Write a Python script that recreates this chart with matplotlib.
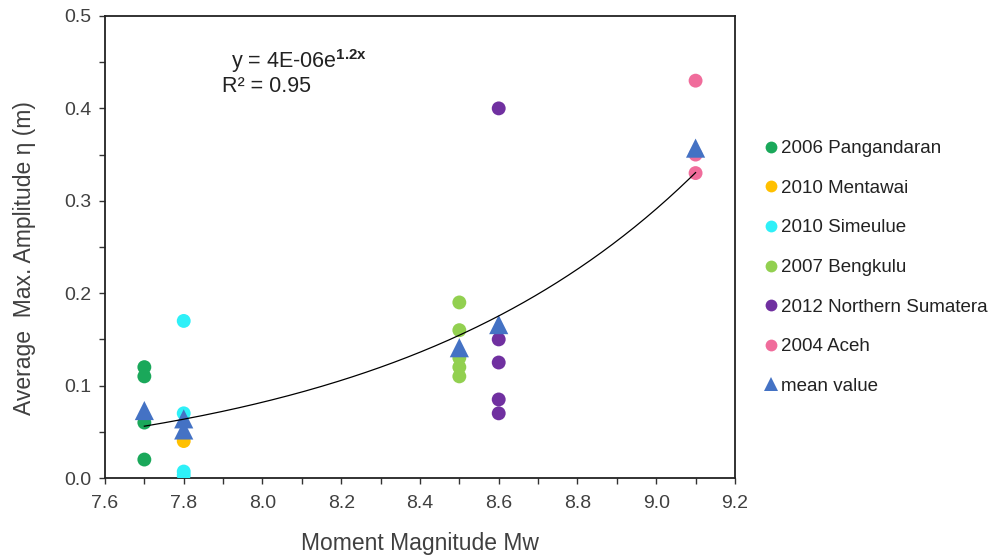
import numpy as np
import matplotlib.pyplot as plt
from matplotlib.lines import Line2D

plt.rcParams["font.family"] = ["Liberation Sans", "DejaVu Sans"]
plt.rcParams["mathtext.fontset"] = "custom"
plt.rcParams["mathtext.rm"] = "Liberation Sans"
plt.rcParams["mathtext.bf"] = "Liberation Sans:bold"

# ---------------------------------------------------------------------------
# Data
# ---------------------------------------------------------------------------
pang_x = [7.7, 7.7, 7.7, 7.7]
pang_y = [0.12, 0.11, 0.06, 0.02]

ment_x = [7.8]
ment_y = [0.04]

sime_x = [7.8, 7.8, 7.8, 7.8]
sime_y = [0.17, 0.07, 0.007, 0.003]

beng_x = [8.5, 8.5, 8.5, 8.5, 8.5]
beng_y = [0.19, 0.16, 0.13, 0.12, 0.11]

nsum_x = [8.6, 8.6, 8.6, 8.6, 8.6]
nsum_y = [0.40, 0.15, 0.125, 0.085, 0.07]

aceh_x = [9.1, 9.1, 9.1]
aceh_y = [0.43, 0.35, 0.33]

mean_x = [7.7, 7.8, 7.8, 8.5, 8.6, 9.1]
mean_y = [0.073, 0.064, 0.052, 0.141, 0.166, 0.357]

# exponential trendline y = a*exp(b*x), as drawn in the reference
trend_a = 3.25e-6
trend_b = 1.267
trend_range = (7.7, 9.1)

series = [
    ("2006 Pangandaran", pang_x, pang_y, "#1aa85a"),
    ("2010 Mentawai", ment_x, ment_y, "#ffc000"),
    ("2010 Simeulue", sime_x, sime_y, "#2ef0f8"),
    ("2007 Bengkulu", beng_x, beng_y, "#92d050"),
    ("2012 Northern Sumatera", nsum_x, nsum_y, "#7030a0"),
    ("2004 Aceh", aceh_x, aceh_y, "#f06c9b"),
]
MEAN_COLOR = "#4472c4"
TXT = "#404040"

# ---------------------------------------------------------------------------
# Figure
# ---------------------------------------------------------------------------
fig = plt.figure(figsize=(9.96, 5.57), dpi=100)
ax = fig.add_axes([0.1054, 0.1418, 0.6325, 0.8295])

for label, xs, ys, c in series:
    ax.scatter(xs, ys, s=100, color=c, edgecolors="none", zorder=3)

ax.scatter(mean_x, mean_y, s=190, marker="^", color=MEAN_COLOR,
           edgecolors="none", zorder=4)

xt = np.linspace(*trend_range, 200)
ax.plot(xt, trend_a * np.exp(trend_b * xt), color="black", lw=0.9, zorder=5)

ax.set_xlim(7.6, 9.2)
ax.set_ylim(0, 0.5)
ax.set_xticks(np.arange(7.6, 9.21, 0.2))
ax.set_xticks(np.arange(7.6, 9.21, 0.1), minor=True)
ax.set_yticks(np.arange(0, 0.51, 0.1))
ax.set_yticks(np.arange(0, 0.51, 0.05), minor=True)
ax.xaxis.set_major_formatter(plt.FuncFormatter(lambda v, p: f"{v:.1f}"))
ax.yaxis.set_major_formatter(plt.FuncFormatter(lambda v, p: f"{v:.1f}"))
ax.tick_params(which="both", direction="out", length=4, width=1,
               labelsize=14, colors="#333333", labelcolor=TXT)
ax.tick_params(axis="x", pad=8)
ax.tick_params(axis="y", pad=6)
for s in ax.spines.values():
    s.set_linewidth(1.3)
    s.set_color("#222222")

ax.set_xlabel("Moment Magnitude Mw", fontsize=16.5, color=TXT)
ax.set_ylabel("Average  Max. Amplitude \u03b7 (m)", fontsize=16.5, color=TXT)
ax.xaxis.set_label_coords(0.5, -0.117)
ax.yaxis.set_label_coords(-0.11, 0.475)

ax.text(0.2, 0.903, "y = 4E-06e$^{\\mathbf{1.2x}}$", transform=ax.transAxes,
        fontsize=15.5, color="#222222", va="center")
ax.text(0.186, 0.847, "R\u00b2 = 0.95", transform=ax.transAxes,
        fontsize=15.5, color="#222222", va="center", ha="left")

handles = [Line2D([], [], marker="o", ls="none", color=c, markersize=8.5,
                  markeredgewidth=0) for _, _, _, c in series]
handles.append(Line2D([], [], marker="^", ls="none", color=MEAN_COLOR,
                      markersize=10, markeredgewidth=0))
labels = [s[0] for s in series] + ["mean value"]
fig.legend(handles, labels, loc="upper left", bbox_to_anchor=(0.757, 0.762),
           frameon=False, fontsize=13.5, handletextpad=0.05, handlelength=1.0,
           labelspacing=1.2, borderaxespad=0, labelcolor="#222222")

fig.savefig("out.png", dpi=100)
